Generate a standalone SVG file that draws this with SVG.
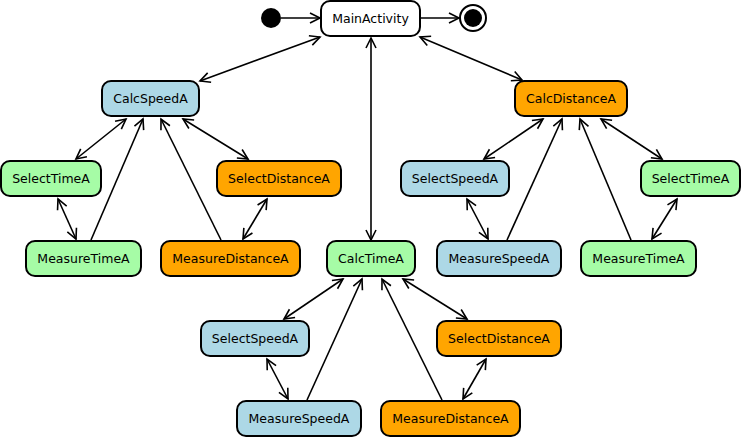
<svg xmlns="http://www.w3.org/2000/svg" width="741" height="438" viewBox="0 0 741 438">
<defs>
<style>
.n rect{stroke:#000;stroke-width:2}
.n text{font-family:"DejaVu Sans",sans-serif;font-size:12.5px;fill:#000;text-anchor:middle}
.w{fill:#fff}.b{fill:#add8e6}.g{fill:#a6fca6}.o{fill:#ffa500}
.e line{stroke:#000;stroke-width:1.6;fill:none}
.d{marker-start:url(#ah);marker-end:url(#ah)}
.s{marker-end:url(#ah)}
</style>
<marker id="ah" markerUnits="userSpaceOnUse" markerWidth="14" markerHeight="14" refX="11" refY="6" orient="auto-start-reverse" viewBox="0 0 14 12">
<path d="M1,1 L11,6 L1,11" fill="none" stroke="#000" stroke-width="1.6"/>
</marker>
</defs>
<rect width="741" height="438" fill="#fff"/>
<g id="edges" class="e">
<line class="s" x1="281" y1="18" x2="320" y2="18"/>
<line class="s" x1="421" y1="18" x2="459" y2="18"/>
<line class="d" x1="320" y1="37" x2="200" y2="81"/>
<line class="d" x1="420" y1="37" x2="522" y2="80"/>
<line class="d" x1="371" y1="38" x2="371" y2="240"/>
<line class="d" x1="126" y1="119" x2="76" y2="159"/>
<line class="s" x1="91" y1="240" x2="143" y2="119"/>
<line class="s" x1="221" y1="240" x2="161" y2="119"/>
<line class="d" x1="183" y1="119" x2="248" y2="159"/>
<line class="d" x1="58" y1="199" x2="76" y2="239"/>
<line class="d" x1="267" y1="199" x2="243" y2="239"/>
<line class="d" x1="543" y1="119" x2="484" y2="159"/>
<line class="s" x1="507" y1="240" x2="562" y2="119"/>
<line class="s" x1="631" y1="240" x2="580" y2="119"/>
<line class="d" x1="601" y1="119" x2="662" y2="159"/>
<line class="d" x1="467" y1="199" x2="488" y2="239"/>
<line class="d" x1="677" y1="199" x2="652" y2="239"/>
<line class="d" x1="343" y1="279" x2="284" y2="319"/>
<line class="s" x1="307" y1="400" x2="362" y2="279"/>
<line class="s" x1="442" y1="400" x2="382" y2="279"/>
<line class="d" x1="403" y1="279" x2="467" y2="319"/>
<line class="d" x1="267" y1="359" x2="288" y2="399"/>
<line class="d" x1="486" y1="359" x2="463" y2="399"/>
</g>
<g id="start"><circle cx="271" cy="18" r="10" fill="#000"/></g>
<g id="end"><circle cx="473" cy="18" r="13" fill="#fff" stroke="#000" stroke-width="2"/><circle cx="473" cy="18" r="9" fill="#000"/></g>
<g id="MainActivity" class="n"><rect class="w" x="321" y="1" width="99" height="35" rx="9"/><text x="370.5" y="22.5">MainActivity</text></g>
<g id="CalcSpeedA" class="n"><rect class="b" x="102" y="81" width="97" height="35" rx="9"/><text x="150.5" y="102.5">CalcSpeedA</text></g>
<g id="SelectTimeA1" class="n"><rect class="g" x="1" y="161" width="100" height="35" rx="9"/><text x="51" y="182.5">SelectTimeA</text></g>
<g id="SelectDistanceA1" class="n"><rect class="o" x="217" y="161" width="124" height="35" rx="9"/><text x="279" y="182.5">SelectDistanceA</text></g>
<g id="MeasureTimeA1" class="n"><rect class="g" x="26" y="241" width="115" height="35" rx="9"/><text x="83.5" y="262.5">MeasureTimeA</text></g>
<g id="MeasureDistanceA1" class="n"><rect class="o" x="161" y="241" width="139" height="35" rx="9"/><text x="230.5" y="262.5">MeasureDistanceA</text></g>
<g id="CalcDistanceA" class="n"><rect class="o" x="515" y="81" width="112" height="35" rx="9"/><text x="571" y="102.5">CalcDistanceA</text></g>
<g id="SelectSpeedA1" class="n"><rect class="b" x="401" y="161" width="108" height="35" rx="9"/><text x="455" y="182.5">SelectSpeedA</text></g>
<g id="SelectTimeA2" class="n"><rect class="g" x="641" y="161" width="99" height="35" rx="9"/><text x="690.5" y="182.5">SelectTimeA</text></g>
<g id="MeasureSpeedA1" class="n"><rect class="b" x="437" y="241" width="124" height="35" rx="9"/><text x="499" y="262.5">MeasureSpeedA</text></g>
<g id="MeasureTimeA2" class="n"><rect class="g" x="581" y="241" width="115" height="35" rx="9"/><text x="638.5" y="262.5">MeasureTimeA</text></g>
<g id="CalcTimeA" class="n"><rect class="g" x="327" y="241" width="88" height="35" rx="9"/><text x="371" y="262.5">CalcTimeA</text></g>
<g id="SelectSpeedA2" class="n"><rect class="b" x="201" y="321" width="108" height="35" rx="9"/><text x="255" y="342.5">SelectSpeedA</text></g>
<g id="SelectDistanceA2" class="n"><rect class="o" x="437" y="321" width="124" height="35" rx="9"/><text x="499" y="342.5">SelectDistanceA</text></g>
<g id="MeasureSpeedA2" class="n"><rect class="b" x="237" y="401" width="124" height="35" rx="9"/><text x="299" y="422.5">MeasureSpeedA</text></g>
<g id="MeasureDistanceA2" class="n"><rect class="o" x="381" y="401" width="139" height="35" rx="9"/><text x="450.5" y="422.5">MeasureDistanceA</text></g>
</svg>
